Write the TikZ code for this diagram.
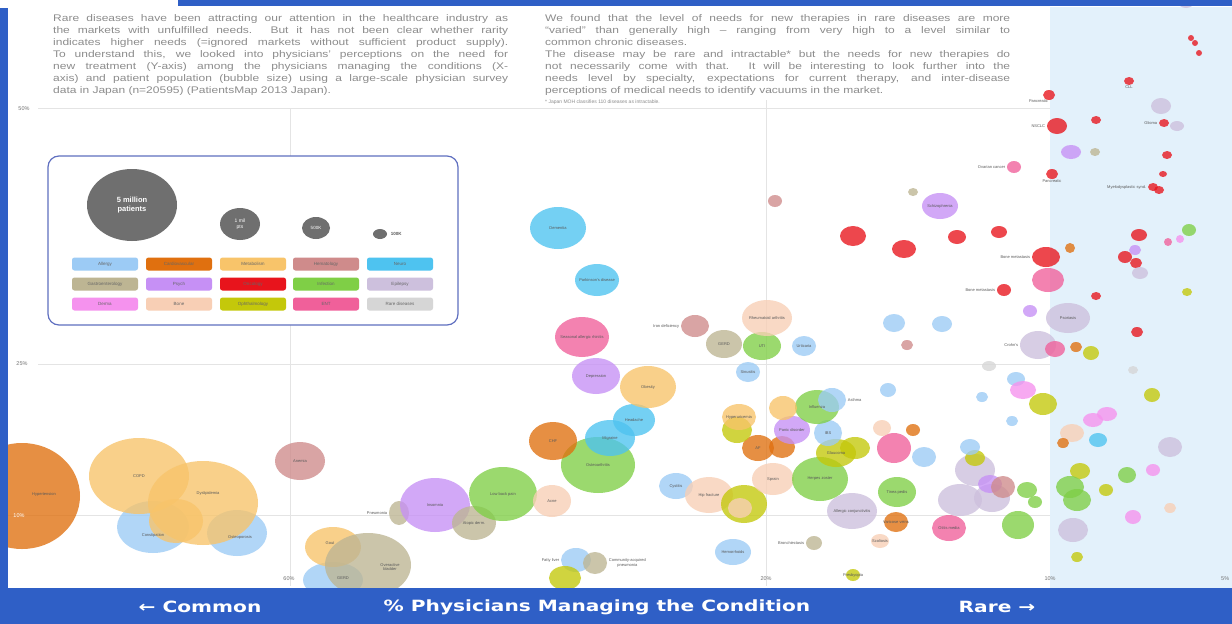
\documentclass[tikz,border=0pt]{standalone}
\usepackage{fontspec}
\setmainfont{Liberation Sans}
\newfontfamily\bandfont{DejaVu Sans}
\usetikzlibrary{shapes.geometric, positioning}

\definecolor{bandblue}{HTML}{2F5FC6}
\definecolor{rarebg}{HTML}{E3F1FB}
\definecolor{gridgray}{HTML}{E4E4E4}
\definecolor{legline}{HTML}{5F6FC0}
\definecolor{ballgray}{HTML}{6F6F6F}
\definecolor{cLblue}{HTML}{9CCBF5}
\definecolor{cOrange}{HTML}{E0700F}
\definecolor{cYel}{HTML}{F8C46A}
\definecolor{cRosy}{HTML}{CF8B8B}
\definecolor{cCyan}{HTML}{4EC3F0}
\definecolor{cTan}{HTML}{BDB593}
\definecolor{cPurp}{HTML}{C690F5}
\definecolor{cRed}{HTML}{E8141C}
\definecolor{cGreen}{HTML}{7FCF46}
\definecolor{cLav}{HTML}{CDC0DD}
\definecolor{cViol}{HTML}{F592EE}
\definecolor{cPeach}{HTML}{F8CFB5}
\definecolor{cOlive}{HTML}{C4C80A}
\definecolor{cPink}{HTML}{F0609A}
\definecolor{cGray}{HTML}{D6D6D6}

\tikzset{
	bubble/.style={ellipse, inner sep=0pt, fill opacity=.78, draw=none}, % one disease
	lab/.style={font=\fontsize{4}{4.5}\selectfont, text=black!65, inner sep=.5pt, align=center},
	axlab/.style={font=\fontsize{5.5}{6}\selectfont, text=black!55, inner sep=1pt},
	grid line/.style={draw=gridgray, line width=.8pt},
	sizeball/.style={ellipse, fill=ballgray, inner sep=0pt, text=white, font=\fontsize{7.5}{8.5}\selectfont\bfseries, align=center},
	swatch/.style={rectangle, rounded corners=2.5pt, minimum width=66pt, minimum height=13pt, inner sep=0pt, font=\fontsize{4.5}{5}\selectfont, text=black!60},
	band text/.style={text=white, font=\bandfont\bfseries\fontsize{15.5}{16}\selectfont},
}

% bubble: name, centre, x radius, y radius, colour
\newcommand{\bub}[5]{\node[bubble, fill=#5, minimum width=2*#3pt, minimum height=2*#4pt] (#1) at (#2) {};}
% justified text block, widened like the chart
\newcommand{\textblock}[2]{\scalebox{1.25}[1]{\parbox{#1}{\fontsize{9.6}{12}\selectfont\color{black!45}\hyphenpenalty=10000 #2}}}

\begin{document}
\begin{tikzpicture}[x=1pt, y=-1pt]
	\useasboundingbox (0,0) rectangle (1232,624);
	\fill[white] (0,0) rectangle (1232,624);
	\fill[rarebg] (1050,7) rectangle (1232,588);

	% grid
	\draw[grid line] (38,108) -- (1050,108);
	\draw[grid line] (38,364) -- (1050,364);
	\draw[grid line] (8,515) -- (1050,515);
	\draw[grid line] (290,108) -- (290,586);
	\draw[grid line] (766,100) -- (766,586);
	\node[axlab] (y50) at (24,109) {50\%};
	\node[axlab] (y25) at (22,364) {25\%};
	\node[axlab] (x60) at (289,579) {60\%};
	\node[axlab] (x20) at (766,579) {20\%};
	\node[axlab] (x10) at (1050,579) {10\%};
	\node[axlab, anchor=west] (x5) at (1220,579) {5\%};

	% common diseases
	\bub{hyper}{22,496}{58}{53}{cOrange}
	\bub{const}{153,527}{36}{26}{cLblue}
	\bub{osteop}{237,533}{30}{23}{cLblue}
	\bub{copd}{139,476}{50}{38}{cYel}
	\bub{dysl}{203,503}{55}{42}{cYel}
	\bub{diab}{176,521}{27}{22}{cYel}
	\bub{anem}{300,461}{25}{19}{cRosy}
	\bub{gerd}{333,580}{30}{18}{cLblue}
	\bub{gout}{333,547}{28}{20}{cYel}
	\bub{oab}{368,565}{43}{32}{cTan}
	\bub{pneu}{399,513}{10}{12}{cTan}
	\bub{insom}{435,505}{35}{27}{cPurp}
	\bub{atop}{474,523}{22}{17}{cTan}
	\bub{lbp}{503,494}{34}{27}{cGreen}
	\bub{acne}{552,501}{19}{16}{cPeach}
	\bub{oa}{598,465}{37}{28}{cGreen}
	\bub{chf}{553,441}{24}{19}{cOrange}
	\bub{migr}{610,438}{25}{18}{cCyan}
	\bub{head}{634,420}{21}{16}{cCyan}
	\bub{obes}{648,387}{28}{21}{cYel}
	\bub{depr}{596,376}{24}{18}{cPurp}
	\bub{rhin}{582,337}{27}{20}{cPink}
	\bub{park}{597,280}{22}{16}{cCyan}
	\bub{dem}{558,228}{28}{21}{cCyan}
	\node[lab] (l-hyper) at (44,494) {Hypertension};
	\node[axlab, text=white] (y10) at (19,516) {10\%};
	\node[lab] (l-const) at (153,535) {Constipation};
	\node[lab] (l-osteop) at (240,537) {Osteoporosis};
	\node[lab] (l-copd) at (copd) {COPD};
	\node[lab] (l-dysl) at (208,493) {Dyslipidemia};
	\node[lab] (l-anem) at (anem) {Anemia};
	\node[lab] (l-gerd) at (343,578) {GERD};
	\node[lab] (l-gout) at (330,543) {Gout};
	\node[lab] (l-oab) at (390,567) {Overactive\\bladder};
	\node[lab, left=1pt of pneu] (l-pneu) {Pneumonia};
	\node[lab] (l-insom) at (insom) {Insomnia};
	\node[lab] (l-atop) at (atop) {Atopic derm.};
	\node[lab] (l-lbp) at (lbp) {Low back pain};
	\node[lab] (l-acne) at (acne) {Acne};
	\node[lab] (l-oa) at (oa) {Osteoarthritis};
	\node[lab] (l-chf) at (chf) {CHF};
	\node[lab] (l-migr) at (migr) {Migraine};
	\node[lab] (l-head) at (head) {Headache};
	\node[lab] (l-obes) at (obes) {Obesity};
	\node[lab] (l-depr) at (depr) {Depression};
	\node[lab] (l-rhin) at (rhin) {Seasonal allergic rhinitis};
	\node[lab] (l-park) at (park) {Parkinson's disease};
	\node[lab] (l-dem) at (dem) {Dementia};

	% middle
	\bub{irond}{695,326}{14}{11}{cRosy}
	\bub{gerd2}{724,344}{18}{14}{cTan}
	\bub{uti}{762,346}{19}{14}{cGreen}
	\bub{ra}{767,318}{25}{18}{cPeach}
	\bub{urti}{804,346}{12}{10}{cLblue}
	\bub{sinu}{748,372}{12}{10}{cLblue}
	\bub{cyst}{676,486}{17}{13}{cLblue}
	\bub{hipf}{709,495}{24}{18}{cPeach}
	\bub{cata}{744,504}{23}{19}{cOlive}
	\bub{cata2}{740,508}{12}{10}{cPeach}
	\bub{sprain}{773,479}{21}{16}{cPeach}
	\bub{zost}{820,479}{28}{22}{cGreen}
	\bub{conj}{852,511}{25}{18}{cLav}
	\bub{hemo}{733,552}{18}{13}{cLblue}
	\bub{fatl}{576,560}{15}{12}{cLblue}
	\bub{cap}{595,563}{12}{11}{cTan}
	\bub{olive1}{565,578}{16}{12}{cOlive}
	\bub{presb}{853,575}{7}{6}{cOlive}
	\bub{bronch}{814,543}{8}{7}{cTan}
	\bub{scol}{880,541}{9}{7}{cPeach}
	\bub{vari}{896,522}{12}{10}{cOrange}
	\bub{otit}{949,528}{17}{13}{cPink}
	\bub{tinea}{897,492}{19}{15}{cGreen}
	\bub{pink1}{894,448}{17}{15}{cPink}
	\bub{blue1}{924,457}{12}{10}{cLblue}
	\bub{glau}{836,453}{20}{14}{cOlive}
	\bub{glau2}{855,448}{15}{11}{cOlive}
	\bub{af}{758,448}{16}{13}{cOrange}
	\bub{af2}{782,447}{13}{11}{cOrange}
	\bub{dryeye}{737,430}{15}{13}{cOlive}
	\bub{huric}{739,417}{17}{13}{cYel}
	\bub{panic}{792,430}{18}{14}{cPurp}
	\bub{ibs}{828,433}{14}{13}{cLblue}
	\bub{flu}{817,407}{22}{17}{cGreen}
	\bub{asth}{832,400}{14}{12}{cLblue}
	\bub{gout2}{783,408}{14}{12}{cYel}
	\bub{blue2}{888,390}{8}{7}{cLblue}
	\bub{peach2}{882,428}{9}{8}{cPeach}
	\bub{orange2}{913,430}{7}{6}{cOrange}
	\bub{blue3}{894,323}{11}{9}{cLblue}
	\bub{blue4}{942,324}{10}{8}{cLblue}
	\bub{rosy2}{907,345}{6}{5}{cRosy}
	\bub{red1}{853,236}{13}{10}{cRed}
	\bub{red2}{904,249}{12}{9}{cRed}
	\bub{red3}{957,237}{9}{7}{cRed}
	\bub{red4}{999,232}{8}{6}{cRed}
	\bub{bmet}{1004,290}{7}{6}{cRed}
	\bub{schiz}{940,206}{18}{13}{cPurp}
	\bub{rosy3}{775,201}{7}{6}{cRosy}
	\bub{tan3}{913,192}{5}{4}{cTan}
	\bub{gray1}{989,366}{7}{5}{cGray}
	\bub{blue5}{982,397}{6}{5}{cLblue}
	\bub{lav1}{975,470}{20}{16}{cLav}
	\bub{lav2}{960,500}{22}{16}{cLav}
	\bub{lav3}{992,498}{18}{14}{cLav}
	\bub{purp2}{990,484}{12}{9}{cPurp}
	\bub{olive2}{975,458}{10}{8}{cOlive}
	\bub{blue6}{970,447}{10}{8}{cLblue}
	\bub{rosy4}{1003,487}{12}{11}{cRosy}
	\node[lab, left=1pt of irond] (l-irond) {Iron deficiency};
	\node[lab] (l-gerd2) at (gerd2) {GERD};
	\node[lab] (l-uti) at (uti) {UTI};
	\node[lab] (l-ra) at (ra) {Rheumatoid arthritis};
	\node[lab] (l-urti) at (urti) {Urticaria};
	\node[lab] (l-sinu) at (sinu) {Sinusitis};
	\node[lab] (l-cyst) at (cyst) {Cystitis};
	\node[lab] (l-hipf) at (hipf) {Hip fracture};
	\node[lab] (l-sprain) at (sprain) {Sprain};
	\node[lab] (l-zost) at (zost) {Herpes zoster};
	\node[lab] (l-conj) at (conj) {Allergic conjunctivitis};
	\node[lab] (l-hemo) at (hemo) {Hemorrhoids};
	\node[lab, left=1pt of fatl] (l-fatl) {Fatty liver};
	\node[lab, right=1pt of cap] (l-cap) {Community-acquired\\pneumonia};
	\node[lab] (l-presb) at (presb) {Presbyopia};
	\node[lab, left=1pt of bronch] (l-bronch) {Bronchiectasis};
	\node[lab] (l-scol) at (scol) {Scoliosis};
	\node[lab] (l-vari) at (vari) {Varicose veins};
	\node[lab] (l-otit) at (otit) {Otitis media};
	\node[lab] (l-tinea) at (tinea) {Tinea pedis};
	\node[lab] (l-glau) at (glau) {Glaucoma};
	\node[lab] (l-af) at (af) {AF};
	\node[lab] (l-huric) at (huric) {Hyperuricemia};
	\node[lab] (l-panic) at (panic) {Panic disorder};
	\node[lab] (l-ibs) at (ibs) {IBS};
	\node[lab] (l-flu) at (flu) {Influenza};
	\node[lab, right=1pt of asth] (l-asth) {Asthma};
	\node[lab, left=1pt of bmet] (l-bmet) {Bone metastasis};
	\node[lab] (l-schiz) at (schiz) {Schizophrenia};

	% rare diseases
	\bub{panc}{1049,95}{6}{5}{cRed}
	\bub{nsclc}{1057,126}{10}{8}{cRed}
	\bub{r1}{1096,120}{5}{4}{cRed}
	\bub{r2}{1071,152}{10}{7}{cPurp}
	\bub{r3}{1095,152}{5}{4}{cTan}
	\bub{r4}{1052,174}{6}{5}{cRed}
	\bub{r5}{1014,167}{7}{6}{cPink}
	\bub{r6}{1129,81}{5}{4}{cRed}
	\bub{r7}{1161,106}{10}{8}{cLav}
	\bub{r8}{1164,123}{5}{4}{cRed}
	\bub{r9}{1177,126}{7}{5}{cLav}
	\bub{r10}{1167,155}{5}{4}{cRed}
	\bub{r11}{1163,174}{4}{3}{cRed}
	\bub{r12}{1153,187}{5}{4}{cRed}
	\bub{r13}{1159,190}{5}{4}{cRed}
	\bub{r14}{1191,38}{3}{3}{cRed}
	\bub{r15}{1195,43}{3}{3}{cRed}
	\bub{r16}{1199,53}{3}{3}{cRed}
	\bub{r17}{1189,230}{7}{6}{cGreen}
	\bub{r18}{1139,235}{8}{6}{cRed}
	\bub{r19}{1125,257}{7}{6}{cRed}
	\bub{r20}{1136,263}{6}{5}{cRed}
	\bub{r21}{1168,242}{4}{4}{cPink}
	\bub{r22}{1180,239}{4}{4}{cViol}
	\bub{r23}{1135,250}{6}{5}{cPurp}
	\bub{r24}{1046,257}{14}{10}{cRed}
	\bub{r25}{1048,280}{16}{12}{cPink}
	\bub{r26}{1070,248}{5}{5}{cOrange}
	\bub{r27}{1140,273}{8}{6}{cLav}
	\bub{r28}{1187,292}{5}{4}{cOlive}
	\bub{r29}{1096,296}{5}{4}{cRed}
	\bub{r30}{1068,318}{22}{15}{cLav}
	\bub{r31}{1030,311}{7}{6}{cPurp}
	\bub{r32}{1137,332}{6}{5}{cRed}
	\bub{r33}{1038,345}{18}{14}{cLav}
	\bub{r34}{1055,349}{10}{8}{cPink}
	\bub{r35}{1076,347}{6}{5}{cOrange}
	\bub{r36}{1091,353}{8}{7}{cOlive}
	\bub{r37}{1016,379}{9}{7}{cLblue}
	\bub{r38}{1023,390}{13}{9}{cViol}
	\bub{r39}{1043,404}{14}{11}{cOlive}
	\bub{r40}{1012,421}{6}{5}{cLblue}
	\bub{r41}{1093,420}{10}{7}{cViol}
	\bub{r42}{1107,414}{10}{7}{cViol}
	\bub{r43}{1072,433}{12}{9}{cPeach}
	\bub{r44}{1063,443}{6}{5}{cOrange}
	\bub{r45}{1098,440}{9}{7}{cCyan}
	\bub{r46}{1152,395}{8}{7}{cOlive}
	\bub{r47}{1170,447}{12}{10}{cLav}
	\bub{r48}{1080,471}{10}{8}{cOlive}
	\bub{r49}{1127,475}{9}{8}{cGreen}
	\bub{r50}{1153,470}{7}{6}{cViol}
	\bub{r51}{1027,490}{10}{8}{cGreen}
	\bub{r52}{1035,502}{7}{6}{cGreen}
	\bub{r53}{1070,487}{14}{11}{cGreen}
	\bub{r54}{1077,500}{14}{11}{cGreen}
	\bub{r55}{1106,490}{7}{6}{cOlive}
	\bub{r56}{1018,525}{16}{14}{cGreen}
	\bub{r57}{1073,530}{15}{12}{cLav}
	\bub{r58}{1077,557}{6}{5}{cOlive}
	\bub{r59}{1133,517}{8}{7}{cViol}
	\bub{r60}{1170,508}{6}{5}{cPeach}
	\bub{r61}{1133,370}{5}{4}{cGray}
	\bub{r62}{1186,2}{8}{6}{cLav}
	\node[lab, below left=0pt and -4pt of panc] (l-panc) {Pancreatic};
	\node[lab, left=1pt of nsclc] (l-nsclc) {NSCLC};
	\node[lab, below=0pt of r4] (l-r4) {Pancreatic};
	\node[lab, left=1pt of r5] (l-r5) {Ovarian cancer};
	\node[lab, below=0pt of r6] (l-r6) {CLL};
	\node[lab, left=1pt of r24] (l-r24) {Bone metastasis};
	\node[lab] (l-r30) at (r30) {Psoriasis};
	\node[lab, left=1pt of r33] (l-r33) {Crohn's};
	\node[lab, left=1pt of r12] (l-r12) {Myelodysplastic synd.};
	\node[lab, left=1pt of r8] (l-r8) {Glioma};

	% legend
	\draw[legline, line width=1.2pt, rounded corners=11pt, fill=white] (48,156) rectangle (458,325);
	\node[sizeball, minimum width=90pt, minimum height=72pt] (s5m) at (132,205) {5 million\\patients};
	\node[sizeball, minimum width=40pt, minimum height=32pt, font=\fontsize{5}{6}\selectfont] (s1m) at (240,224) {1 mil\\pts};
	\node[sizeball, minimum width=28pt, minimum height=22pt, font=\fontsize{4.5}{5}\selectfont] (s500k) at (316,228) {500K};
	\node[sizeball, minimum width=14pt, minimum height=10pt] (s100k) at (380,234) {};
	\node[lab, right=3pt of s100k, font=\fontsize{4.5}{5}\selectfont\bfseries] (l-100k) {100K};
	\node[swatch, fill=cLblue] (sw-allergy) at (105,264) {Allergy};
	\node[swatch, fill=cOrange] (sw-cardio) at (179,264) {Cardiovascular};
	\node[swatch, fill=cYel] (sw-metab) at (253,264) {Metabolism};
	\node[swatch, fill=cRosy] (sw-hemat) at (326,264) {Hematology};
	\node[swatch, fill=cCyan] (sw-neuro) at (400,264) {Neuro};
	\node[swatch, fill=cTan] (sw-gastro) at (105,284) {Gastroenterology};
	\node[swatch, fill=cPurp] (sw-psych) at (179,284) {Psych};
	\node[swatch, fill=cRed] (sw-onco) at (253,284) {Oncology};
	\node[swatch, fill=cGreen] (sw-infect) at (326,284) {Infection};
	\node[swatch, fill=cLav] (sw-epil) at (400,284) {Epilepsy};
	\node[swatch, fill=cViol] (sw-derma) at (105,304) {Derma};
	\node[swatch, fill=cPeach] (sw-bone) at (179,304) {Bone};
	\node[swatch, fill=cOlive] (sw-ophth) at (253,304) {Ophthalmology};
	\node[swatch, fill=cPink] (sw-ent) at (326,304) {ENT};
	\node[swatch, fill=cGray] (sw-rare) at (400,304) {Rare diseases};

	% text above the chart
	\node[anchor=north west, inner sep=0pt] (intro) at (53,14) {\textblock{364pt}{%
		Rare diseases have been attracting our attention in the healthcare industry as\linebreak
		the markets with unfulfilled needs. But it has not been clear whether rarity\linebreak
		indicates higher needs (=ignored markets without sufficient product supply).\linebreak
		To understand this, we looked into physicians' perceptions on the need for\linebreak
		new treatment (Y-axis) among the physicians managing the conditions (X-\linebreak
		axis) and patient population (bubble size) using a large-scale physician survey\linebreak
		data in Japan (n=20595) (PatientsMap 2013 Japan).}};
	\node[anchor=north west, inner sep=0pt] (finding) at (545,14) {\textblock{372pt}{%
		We found that the level of needs for new therapies in rare diseases are more\linebreak
		“varied” than generally high -- ranging from very high to a level similar to\linebreak
		common chronic diseases.\par
		The disease may be rare and intractable* but the needs for new therapies do\linebreak
		not necessarily come with that. It will be interesting to look further into the\linebreak
		needs level by specialty, expectations for current therapy, and inter-disease\linebreak
		perceptions of medical needs to identify vacuums in the market.}};
	\node[anchor=west, inner sep=0pt, text=black!45, font=\fontsize{5}{6}\selectfont] (note) at (545,102) {* Japan MOH classifies 110 diseases as intractable.};

	% frame bands
	\fill[bandblue] (178,0) rectangle (1232,6);
	\fill[bandblue] (0,8) rectangle (8,588);
	\fill[bandblue] (0,588) rectangle (1232,624);
	\node[band text] (common) at (200,607) {\scalebox{1.3}[1]{← Common}};
	\node[band text] (xtitle) at (597,607) {\scalebox{1.3}[1]{\% Physicians Managing the Condition}};
	\node[band text] (rare) at (997,607) {\scalebox{1.3}[1]{Rare →}};
\end{tikzpicture}
\end{document}
